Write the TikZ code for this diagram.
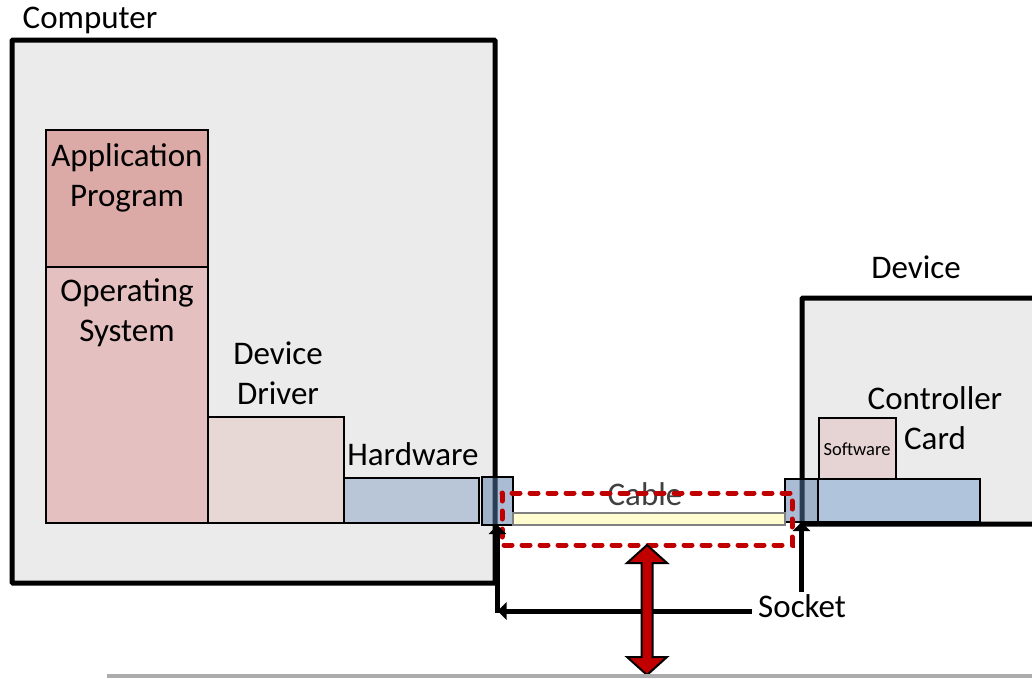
\documentclass[tikz,border=0pt]{standalone}
\usepackage{fontspec}
\setmainfont{Carlito}
\usetikzlibrary{positioning,arrows.meta}
\definecolor{boxgray}{RGB}{235,235,235}
\definecolor{appred}{RGB}{220,170,166}
\definecolor{osred}{RGB}{228,193,192}
\definecolor{drvred}{RGB}{231,216,213}
\definecolor{hwblue}{RGB}{184,198,216}
\definecolor{cardblue}{RGB}{176,196,220}
\definecolor{sockblue}{RGB}{86,122,167}
\definecolor{swred}{RGB}{230,212,212}
\definecolor{cableyel}{RGB}{255,253,208}
\definecolor{darkred}{RGB}{192,0,0}
\newcommand{\bigfont}{\fontsize{33}{40}\selectfont}
\newcommand{\smallfont}{\fontsize{18.5}{22}\selectfont}
\begin{document}
\begin{tikzpicture}[x=1pt,y=-1pt,
  outer/.style={draw,line width=5pt,fill=boxgray,rounded corners=1pt},
  part/.style={draw,line width=2.5pt,inner sep=0pt,outer sep=0pt,anchor=north west},
  lbl/.style={font=\bigfont,inner sep=0pt,align=center},
  ptr/.style={line width=5pt,-{Triangle[length=9pt,width=17pt]}}]
\useasboundingbox (0,0) rectangle (1032,678);
\clip (0,0) rectangle (1032,678);
% the two boxes
\draw[outer] (12,40) rectangle (495,583);
\draw[outer] (802,298) rectangle (1045,524);
\node[lbl,anchor=base] (complbl) at (90,28) {Computer};
\node[lbl,anchor=base] (devlbl) at (916,278) {Device};
% computer side
\node[part,fill=appred,minimum width=162,minimum height=137] (app) at (46,130) {};
\node[part,fill=osred,minimum width=162,minimum height=256] (os) at (app.south west) {};
\node[part,fill=drvred,minimum width=136,minimum height=106,anchor=south west] (drv) at (os.south east) {};
\node[part,fill=hwblue,minimum width=135,minimum height=45,anchor=south west] (hw) at (drv.south east) {};
\node[part,fill=sockblue,fill opacity=0.5,minimum width=31,minimum height=48] (lsock) at (482,477) {};
\node[lbl] (applbl) at (127,178) {Application\\Program};
\node[lbl] (oslbl) at (127,313) {Operating\\System};
\node[lbl] (drvlbl) at (278,373) {Device\\Driver};
\node[lbl,anchor=base] (hwlbl) at (413,465) {Hardware};
% device side
\node[part,fill=cardblue,minimum width=162,minimum height=43] (card) at (818,479) {};
\node[part,fill=sockblue,fill opacity=0.5,minimum width=33,minimum height=43] (rsock) at (785,479) {};
\node[part,fill=swred,minimum width=77,minimum height=61] (sw) at (819,418) {};
\node[inner sep=0pt,font=\smallfont,anchor=base] (swlbl) at (857,455) {Software};
\node[lbl] (cardlbl) at (935,418) {Controller\\Card};
% cable
\node[part,draw=gray,line width=2pt,fill=cableyel,minimum width=272,minimum height=12] (cable) at (513,513) {};
\node[lbl,anchor=base,text=black!75] (cablelbl) at (645,505) {Cable};
\draw[darkred,line width=5pt,line cap=round,dash pattern=on 8pt off 10pt] (502,493) rectangle (792,545);
% socket pointers
\node[lbl,anchor=base west] (socklbl) at (758,617) {Socket};
\coordinate (socktail) at (752,611);
\coordinate (bend) at (497.5,611);
\coordinate (rtail) at (801.5,592);
\draw[ptr] (socktail) -- (bend);
\draw[ptr] ([yshift=-2pt]bend) -- (lsock.south);
\draw[ptr] (rtail) -- (rsock.south);
% red double arrow
\draw[line width=2pt,fill=darkred,line join=miter] (647,545) -- (667,563) -- (652.5,563) -- (652.5,657) -- (667,657) -- (647,675)
  -- (627,657) -- (641.5,657) -- (641.5,563) -- (627,563) -- cycle;
\fill[gray!65] (107,674) rectangle (1032,678);
\end{tikzpicture}
\end{document}
